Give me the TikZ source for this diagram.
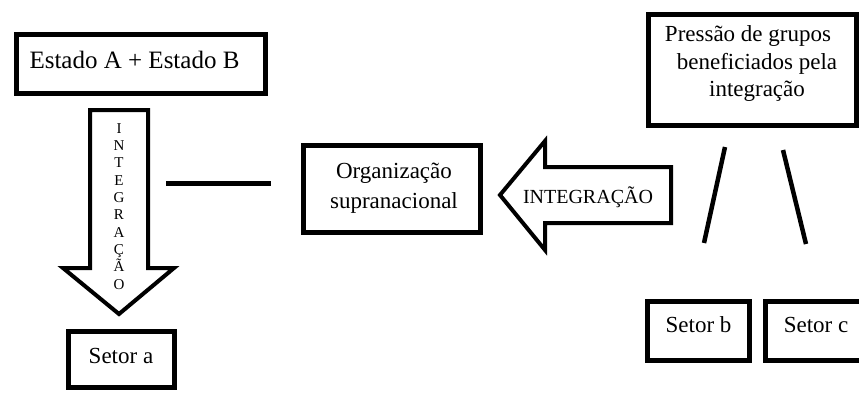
\documentclass[tikz,border=0pt]{standalone}
\usepackage{fontspec}
\setmainfont{Liberation Serif}

\begin{document}
\begin{tikzpicture}[x=1pt, y=-1pt,
  box/.style={draw, line width=5pt, inner sep=0pt},
  blockarrow/.style={draw, line width=4pt, line join=miter, fill=white},
  txt/.style={inner sep=0pt, align=center, font=\fontsize{23}{30}\selectfont},
  letter/.style={inner sep=0pt, anchor=base, font=\fontsize{15}{15}\selectfont}]
  \clip (0,0) rectangle (859,392);
  % boxes
  \foreach \name/\x/\y/\w/\h in {estado/141/64/249/59, setora/121.5/359.5/106/56,
    org/392/189/177/87, pressao/752.5/70/208/111, setorb/698.5/331/102/59,
    setorc/818/331/105/59}
    \node[box, minimum width=\w pt, minimum height=\h pt] (\name) at (\x,\y) {};
  % texts
  \node[txt, anchor=base, font=\fontsize{25}{30}\selectfont] (estadotxt) at (134.5,68) {Estado A + Estado B};
  \node[txt, anchor=base] (setoratxt) at (121,363) {Setor a};
  \node[txt] (orgtxt) at (394,188.5) {Organização\\supranacional};
  \node[txt, font=\fontsize{23}{27.5}\selectfont] (pressaotxt) at (757,63.5)
    {Pressão de grupos\hspace*{18pt}\\beneficiados pela\\integração};
  \node[txt, anchor=base] (setorbtxt) at (698.5,332) {Setor b};
  \node[txt, anchor=base] (setorctxt) at (816,332) {Setor c};
  % down arrow
  \draw[blockarrow] (90,110) -- (148,110) -- (148,268) -- (174,268) -- (119,314)
    -- (63,268) -- (90,268) -- cycle;
  \foreach \l [count=\i] in {I,N,T,E,G,R,A,Ç,Ã,O}
    \node[letter] (let\i) at (119,115.7+17.33*\i) {\l};
  % left arrow
  \draw[blockarrow] (500,195) -- (545,141) -- (545,167) -- (671,167) -- (671,223)
    -- (545,223) -- (545,250) -- cycle;
  \node[txt, anchor=base, font=\fontsize{20}{24}\selectfont] (integtxt) at (588,203) {INTEGRAÇÃO};
  % lines
  \coordinate (h1) at (166,183);
  \coordinate (h2) at (271,183);
  \coordinate (b1) at (725,147);
  \coordinate (b2) at (704,243);
  \coordinate (c1) at (783,150);
  \coordinate (c2) at (806,244);
  \draw[line width=5pt] (h1) -- (h2);
  \draw[line width=4.5pt] (b1) -- (b2);
  \draw[line width=4.5pt] (c1) -- (c2);
\end{tikzpicture}
\end{document}
